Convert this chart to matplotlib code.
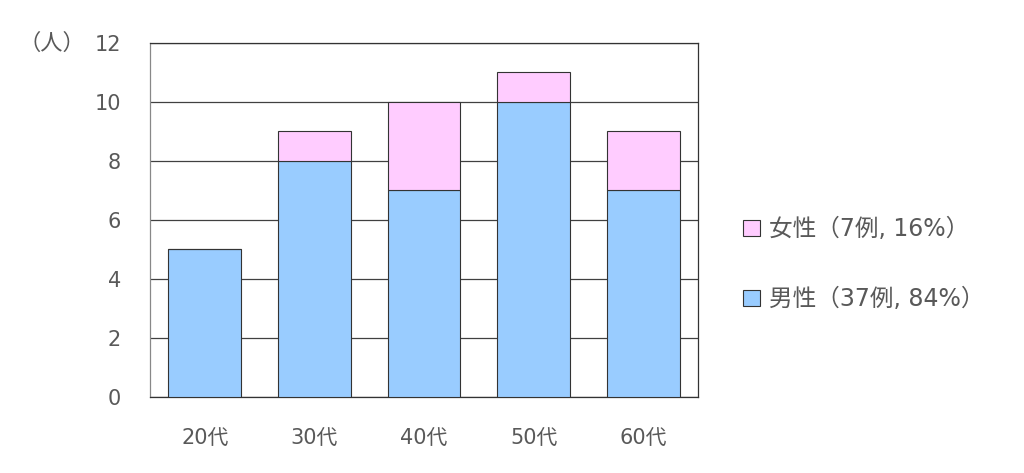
import matplotlib
matplotlib.use("Agg")
import matplotlib.pyplot as plt
from matplotlib.patches import Patch

plt.rcParams['font.family'] = ['DejaVu Sans', 'Noto Sans CJK JP']

categories = ["20代", "30代", "40代", "50代", "60代"]
male = [5, 8, 7, 10, 7]
female = [0, 1, 3, 1, 2]
yticks = [0, 2, 4, 6, 8, 10, 12]
male_label = "男性（37例, 84%）"
female_label = "女性（7例, 16%）"

text_color = "#595959"
male_color = "#99CCFF"
female_color = "#FFCCFF"

fig = plt.figure(figsize=(10.24, 4.73), dpi=100)
ax = fig.add_axes([150/1024, 1-397/473, 548/1024, 354/473])

x = list(range(len(categories)))
ax.bar(x, male, width=0.665, color=male_color, edgecolor="#333333", linewidth=0.8, zorder=3)
ax.bar(x, female, bottom=male, width=0.665, color=female_color, edgecolor="#333333", linewidth=0.8, zorder=3)

ax.set_xlim(-0.5, len(categories) - 0.5)
ax.set_ylim(0, 12)
ax.set_yticks(yticks)
ax.set_xticks(x)
ax.set_xticklabels(categories)
ax.yaxis.grid(True, color="#404040", linewidth=0.9, zorder=0)
ax.set_axisbelow(True)
ax.tick_params(axis='y', length=0, pad=21, labelsize=15, labelcolor=text_color)
ax.tick_params(axis='x', length=0, pad=22.5, labelsize=15, labelcolor=text_color)

ax.spines['left'].set_color("#888888")
ax.spines['top'].set_color("#333333")
ax.spines['right'].set_color("#333333")
ax.spines['bottom'].set_color("#333333")
for s in ax.spines.values():
    s.set_linewidth(0.9)

fig.text(52/1024, 1-43/473, "（人）", ha='center', va='center',
         fontsize=16, color=text_color, family='Noto Sans CJK JP')

handles = [Patch(facecolor=female_color, edgecolor="#333333", linewidth=0.8),
           Patch(facecolor=male_color, edgecolor="#333333", linewidth=0.8)]
fig.legend(handles, [female_label, male_label], loc='upper left',
           bbox_to_anchor=(722/1024, 1-196/473), frameon=False,
           fontsize=17, labelcolor=text_color, handlelength=0.7, handleheight=0.7,
           handletextpad=0.4, labelspacing=1.95)

fig.savefig("out.png", dpi=100)
